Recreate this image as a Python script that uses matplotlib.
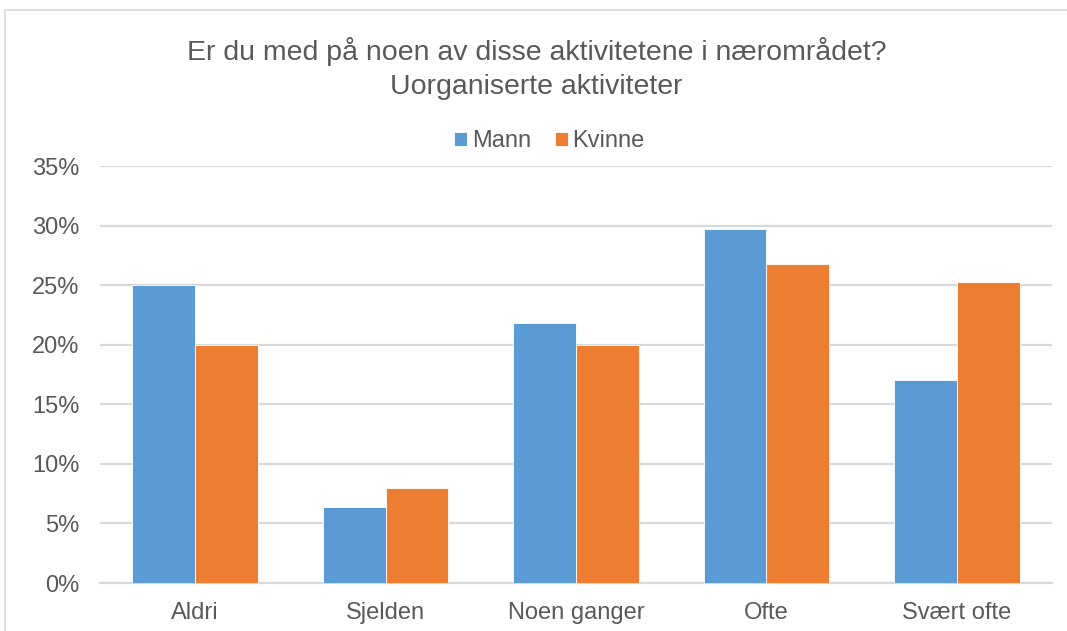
import numpy as np
import matplotlib
matplotlib.use("Agg")
import matplotlib.pyplot as plt
from matplotlib.patches import Rectangle

plt.rcParams['font.family'] = ['Liberation Sans', 'DejaVu Sans']

# Data
kategorier = ["Aldri", "Sjelden", "Noen ganger", "Ofte", "Svært ofte"]
mann = [0.25, 0.064, 0.218, 0.297, 0.17]
kvinne = [0.20, 0.08, 0.20, 0.268, 0.253]
yticks = [0, 0.05, 0.10, 0.15, 0.20, 0.25, 0.30, 0.35]

blaa = "#5B9BD5"
oransje = "#ED7D31"
tekst = "#595959"
grid = "#D9D9D9"

fig = plt.figure(figsize=(10.67, 6.31), dpi=100)
ax = fig.add_axes([100 / 1067, 1 - 583 / 631, 952 / 1067, 417 / 631])

x = np.arange(len(kategorier))
b = 0.33
ax.bar(x - b / 2, mann, b, color=blaa, label="Mann", edgecolor="white", linewidth=0.6, zorder=3)
ax.bar(x + b / 2, kvinne, b, color=oransje, label="Kvinne", edgecolor="white", linewidth=0.6, zorder=3)

ax.set_xlim(-0.5, len(kategorier) - 0.5)
ax.set_ylim(0, 0.35)
ax.set_yticks(yticks)
ax.set_yticklabels([f"{int(round(v * 100))}%" for v in yticks])
ax.set_xticks(x)
ax.set_xticklabels(kategorier)
ax.tick_params(axis="both", length=0, labelsize=17, labelcolor=tekst)
ax.tick_params(axis="y", pad=15)
ax.tick_params(axis="x", pad=14)
ax.grid(axis="y", color=grid, linewidth=1.6, zorder=0)
for s in ["top", "right", "left"]:
    ax.spines[s].set_visible(False)
ax.spines["bottom"].set_color(grid)
ax.spines["bottom"].set_linewidth(1.6)

fig.text(0.503, 1 - 68 / 631, "Er du med på noen av disse aktivitetene i nærområdet?\nUorganiserte aktiviteter",
         ha="center", va="center", fontsize=20.5, color=tekst, linespacing=1.4)

leg = fig.legend(loc="center", bbox_to_anchor=(0.515, 1 - 141 / 631), ncol=2, frameon=False,
                 fontsize=17, handlelength=0.55, handleheight=0.55, handletextpad=0.2,
                 columnspacing=1.0, labelcolor=tekst)

# ytre ramme
fig.patches.append(Rectangle((5 / 1067, -0.1), 1.2, 1 - 10 / 631 + 0.1, transform=fig.transFigure,
                             fill=False, edgecolor=grid, linewidth=1.2))

fig.savefig("out.png", dpi=100)
